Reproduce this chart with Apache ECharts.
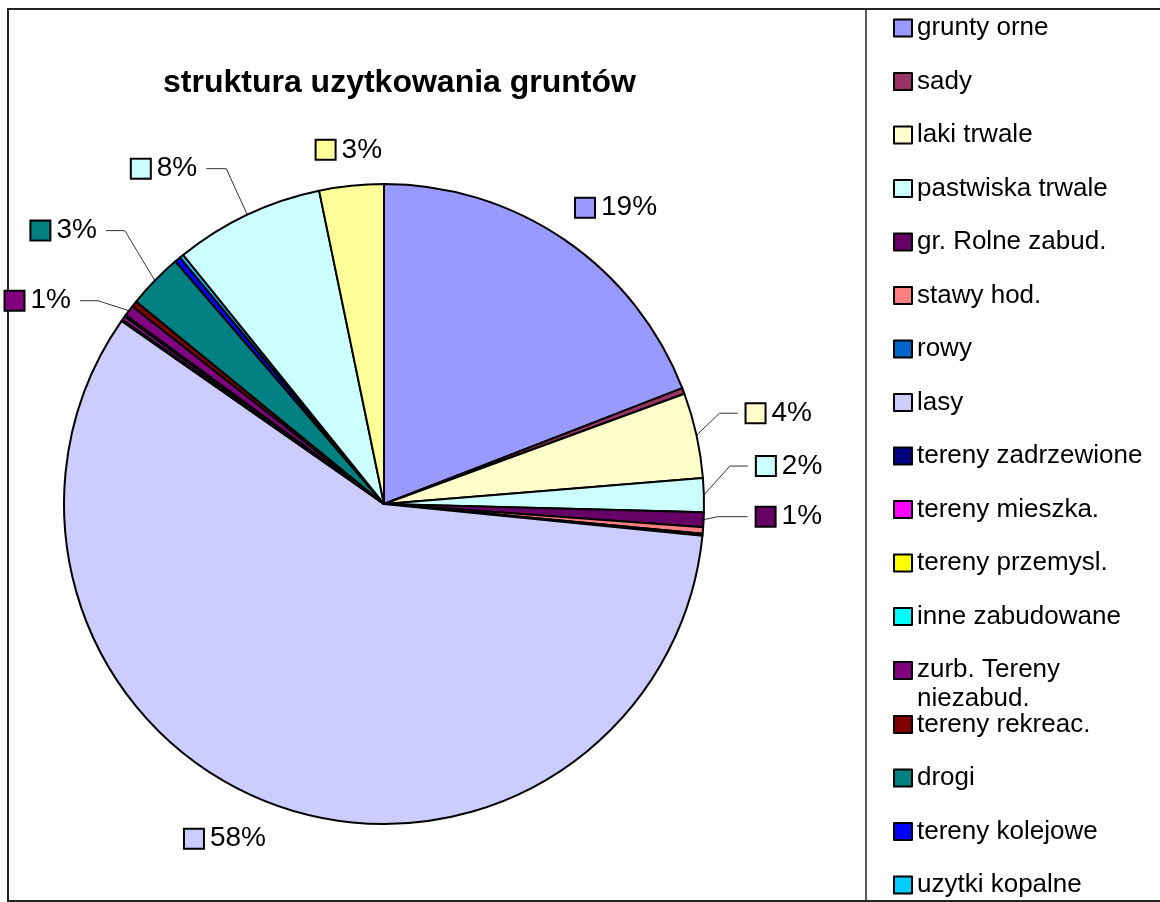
<!DOCTYPE html>
<html>
<head>
<meta charset="utf-8">
<title>struktura uzytkowania gruntów</title>
<script src="https://cdn.jsdelivr.net/npm/echarts@6/dist/echarts.min.js"></script>
<style>
  html, body { margin: 0; padding: 0; background: #fff; }
  #chart { width: 1160px; height: 902px; }
</style>
</head>
<body>
<div id="chart"></div>
<script>
const chartTitle = 'struktura uzytkowania gruntów';

const categories = [
  'grunty orne', 'sady', 'laki trwale', 'pastwiska trwale', 'gr. Rolne zabud.',
  'stawy hod.', 'rowy', 'lasy', 'tereny zadrzewione', 'tereny mieszka.',
  'tereny przemysl.', 'inne zabudowane', 'zurb. Tereny niezabud.', 'tereny rekreac.',
  'drogi', 'tereny kolejowe', 'uzytki kopalne', 'nieuzytki', 'tereny rozne'
];

// shares in percent
const shares = [
  19.1, 0.3, 4.3, 1.7, 0.75,
  0.33, 0.1, 58.1, 0.1, 0.15,
  0.05, 0.05, 0.55, 0.3,
  2.8, 0.3, 0.2, 7.55, 3.25
];

const colors = [
  '#9999FF', '#993366', '#FFFFCC', '#CCFFFF', '#660066',
  '#FF8080', '#0066CC', '#CCCCFF', '#000080', '#FF00FF',
  '#FFFF00', '#00FFFF', '#800080', '#800000', '#008080',
  '#0000FF', '#00CCFF', '#CCFFFF', '#FFFF99'
];

// labels pulled away from the pie with a leader: [bend dx, bend dy, horizontal run]
const leaders = {
  'laki trwale': [23, -22, 18],
  'pastwiska trwale': [26, -29, 18],
  'gr. Rolne zabud.': [14, -3, 30],
  'zurb. Tereny niezabud.': [-31, -10, 18],
  'drogi': [-30, -50, 19],
  'nieuzytki': [-21, -46, 20]
};

const CX = 384, CY = 504, R = 320;

const chart = echarts.init(document.getElementById('chart'));

const total = shares.reduce((a, b) => a + b, 0);

// mid angle of every slice, clockwise from 12 o'clock like the pie itself
const midAngles = [];
let acc = 0;
shares.forEach(v => {
  midAngles.push((acc + v / 2) / total * 2 * Math.PI);
  acc += v;
});

const rich = {
  t: { fontSize: 28, lineHeight: 28, padding: [0, 0, 0, 7], color: '#000' }
};
colors.forEach((c, i) => {
  rich['c' + i] = { width: 18, height: 18, backgroundColor: c, borderColor: '#000', borderWidth: 2 };
});

const pieData = categories.map((name, i) => {
  const visible = shares[i] / total >= 0.005;
  return {
    name: name,
    value: shares[i],
    label: { show: visible },
    labelLine: { show: visible && !!leaders[name] }
  };
});

function placeLabel(p) {
  const i = p.dataIndex;
  const sx = Math.sin(midAngles[i]);
  const cy = Math.cos(midAngles[i]);
  const ex = CX + R * sx;
  const ey = CY - R * cy;
  const ld = leaders[categories[i]];
  if (ld) {
    const dir = ld[0] > 0 ? 1 : -1;
    const bx = ex + ld[0];
    const by = ey + ld[1];
    const px = bx + dir * ld[2];
    return {
      x: px + dir * 9,
      y: by,
      align: dir > 0 ? 'left' : 'right',
      verticalAlign: 'middle',
      labelLinePoints: [[ex, ey], [bx, by], [px, by]]
    };
  }
  return {
    x: CX + (R + 20) * sx,
    y: CY - (R + 22) * cy,
    align: sx > 0.2 ? 'left' : (sx < -0.2 ? 'right' : 'center'),
    verticalAlign: cy > 0 ? 'bottom' : 'top'
  };
}

// long names wrap; the second line takes no height so the first stays level with the swatch
function legendText(name) {
  if (name.length <= 20) return '{a|' + name + '}';
  const k = name.lastIndexOf(' ');
  return '{a|' + name.slice(0, k) + '}\n{b|' + name.slice(k + 1) + '}';
}

const legendBase = {
  orient: 'vertical',
  left: 893,
  padding: 0,
  height: 1000,
  itemWidth: 18,
  itemHeight: 17,
  itemGap: 27.5,
  icon: 'rect',
  selectedMode: false,
  itemStyle: { borderColor: '#000', borderWidth: 2 },
  formatter: legendText,
  textStyle: {
    fontSize: 26,
    color: '#000',
    rich: {
      a: { fontSize: 26, lineHeight: 29, color: '#000' },
      b: { fontSize: 26, lineHeight: 1, padding: [28, 0, 0, 0], color: '#000' }
    }
  }
};

const option = {
  animation: false,
  color: colors,
  textStyle: { fontFamily: 'Liberation Sans, Arial, sans-serif' },
  title: {
    text: chartTitle,
    left: 163,
    top: 67,
    padding: 0,
    textStyle: { fontSize: 32, fontWeight: 'bold', color: '#000' }
  },
  legend: [
    Object.assign({}, legendBase, { top: 15, data: categories.slice(0, 13) }),
    Object.assign({}, legendBase, { top: 711.5, data: categories.slice(13) })
  ],
  graphic: [
    {
      type: 'rect',
      silent: true,
      shape: { x: 8, y: 9, width: 1200, height: 892 },
      style: { fill: 'none', stroke: '#222', lineWidth: 2 }
    },
    {
      type: 'line',
      silent: true,
      shape: { x1: 866, y1: 9, x2: 866, y2: 901 },
      style: { stroke: '#222', lineWidth: 1.5 }
    }
  ],
  series: [{
    type: 'pie',
    center: [CX, CY],
    radius: R,
    startAngle: 90,
    clockwise: true,
    avoidLabelOverlap: false,
    emphasis: { disabled: true },
    itemStyle: { borderColor: '#000', borderWidth: 2 },
    label: {
      position: 'outside',
      color: '#000',
      formatter: p => '{c' + p.dataIndex + '|}{t|' + Math.round(p.percent) + '%}',
      rich: rich
    },
    labelLine: {
      length: 15,
      length2: 15,
      lineStyle: { color: '#333', width: 1 }
    },
    labelLayout: placeLabel,
    data: pieData
  }]
};

chart.setOption(option);
</script>
</body>
</html>
